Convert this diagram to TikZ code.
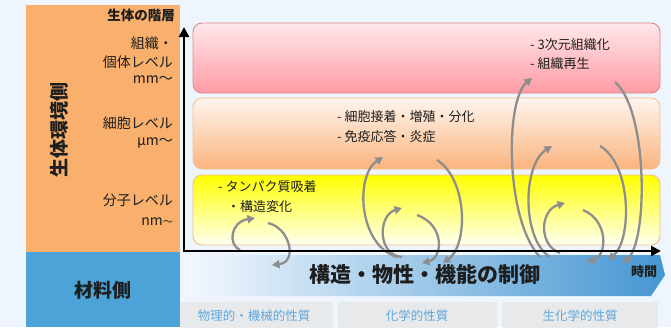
\documentclass[tikz,border=0pt]{standalone}
\usepackage{fontspec}
\setmainfont{Noto Sans CJK JP}
\usetikzlibrary{arrows.meta}
\definecolor{bgc}{HTML}{EEF5FC}
\definecolor{lorange}{HTML}{F8B06C}
\definecolor{lblue}{HTML}{4BA3D8}
\definecolor{redtop}{HTML}{FFE8EB}
\definecolor{redbot}{HTML}{FF9BA4}
\definecolor{redline}{HTML}{D98A90}
\definecolor{peachtop}{HTML}{FFF5EE}
\definecolor{peachbot}{HTML}{FAB47E}
\definecolor{peachline}{HTML}{F7C08E}
\definecolor{yeltop}{HTML}{FFFF00}
\definecolor{yelbot}{HTML}{FFFFF2}
\definecolor{yelline}{HTML}{F2BE84}
\definecolor{bandL}{HTML}{F4F9FE}
\definecolor{bandM}{HTML}{B3D6EF}
\definecolor{bandR}{HTML}{4696D2}
\definecolor{graybox}{HTML}{E8E9EB}
\definecolor{graytxt}{HTML}{5CA8DC}
\definecolor{arrgray}{HTML}{8E8E8E}
\definecolor{txt}{HTML}{1E1E1E}
\tikzset{
  lbl/.style={inner sep=0pt, text=txt, font=\fontsize{14}{16}\selectfont, anchor=east},
  btxt/.style={inner sep=0pt, text=txt, font=\fontsize{13}{15}\selectfont, anchor=west},
  levelbox/.style={rounded corners=9pt, line width=0.9pt, minimum width=467pt, minimum height=70pt, inner sep=0pt},
  gbox/.style={fill=graybox, minimum width=#1, minimum height=30pt, inner sep=0pt, anchor=north west},
  gtxt/.style={inner sep=0pt, text=graytxt, font=\fontsize{12.5}{14}\selectfont},
  garrow/.style={draw=arrgray, line width=2.3pt, -{Triangle[length=7.5pt,width=8pt]}},
  axis/.style={draw=black, line width=2.4pt, -{Triangle[length=10pt,width=10pt]}}
}
\begin{document}
\begin{tikzpicture}[x=1pt,y=-1pt]
\fill[bgc] (0,0) rectangle (671,327);
\useasboundingbox (0,0) rectangle (671,327);
% left panels
\fill[lorange] (26,5) rectangle (180,252);
\fill[lblue] (26,252) rectangle (180,327);
% level boxes
\node[levelbox, draw=redline, top color=redtop, bottom color=redbot] (tissue) at (426.5,58) {};
\node[levelbox, draw=peachline, top color=peachtop, bottom color=peachbot, minimum height=71pt] (cell) at (426.5,133.5) {};
\node[levelbox, draw=yelline, top color=yeltop, bottom color=yelbot] (mol) at (426.5,210) {};
% band
\shade[left color=bandL, middle color=bandM, right color=bandR] (184,255) -- (660,255) -- (665,275) -- (651,296) -- (184,296) -- cycle;
% gray boxes
\node[gbox=153pt] (g1) at (180,302) {};
\node[gbox=159pt] (g2) at (338,302) {};
\node[gbox=156pt] (g3) at (502,302) {};
\node[gtxt] (g1t) at (254,316) {物理的・機械的性質};
\node[gtxt] (g2t) at (417,316) {化学的性質};
\node[gtxt] (g3t) at (580,316) {生化学的性質};
% curved arrows
\draw[garrow] (240,250) .. controls (228,245) and (230,222) .. (255,218);
\draw[garrow] (268,223) .. controls (290,228) and (298,262) .. (272,265);
\draw[garrow] (402,257) .. controls (377,255) and (378,215) .. (402,208);
\draw[garrow] (417,215) .. controls (445,225) and (443,258) .. (422,263);
\draw[garrow] (397,257) .. controls (358,245) and (355,175) .. (383,157);
\draw[garrow] (437,160) .. controls (468,180) and (468,245) .. (443,263);
\draw[garrow] (540,257) .. controls (505,220) and (505,100) .. (532,78);
\draw[garrow] (615,82) .. controls (648,110) and (648,240) .. (623,263);
\draw[garrow] (550,257) .. controls (522,240) and (522,165) .. (552,146);
\draw[garrow] (600,146) .. controls (632,165) and (632,240) .. (608,260);
\draw[garrow] (560,253) .. controls (538,245) and (540,210) .. (565,203);
\draw[garrow] (583,210) .. controls (608,220) and (608,255) .. (587,262);
% axes
\coordinate (O) at (184,251);
\coordinate (Ytop) at (184,27);
\coordinate (Xend) at (661,251);
\draw[axis] (O) -- (Ytop);
\draw[axis] ([xshift=-1.2pt]O) -- (Xend);
% left labels
\node[lbl, font=\fontsize{13.5}{15}\selectfont\bfseries] (hier) at (175,15) {生体の階層};
\node[lbl] (l1a) at (173,43) {組織・};
\node[lbl] (l1b) at (173,62) {個体レベル};
\node[lbl] (l1c) at (173,80) {mm～};
\node[lbl] (l2a) at (173,123) {細胞レベル};
\node[lbl] (l2b) at (173,143) {μm～};
\node[lbl] (l3a) at (173,200) {分子レベル};
\node[lbl] (l3b) at (173,222) {nm{\fontsize{10}{12}\selectfont～}};
\node[inner sep=0pt, text=txt, font=\fontsize{19}{21}\selectfont\bfseries, rotate=90] (bio) at (59,130) {生体環境側};
\node[inner sep=0pt, text=txt, font=\fontsize{19}{21}\selectfont\bfseries] (mat) at (103,290) {材料側};
% box texts
\node[btxt] (t1a) at (530,45) {- 3次元組織化};
\node[btxt] (t1b) at (530,64) {- 組織再生};
\node[btxt] (t2a) at (337,117) {- 細胞接着・増殖・分化};
\node[btxt] (t2b) at (337,136) {- 免疫応答・炎症};
\node[btxt] (t3a) at (218,187) {- タンパク質吸着};
\node[btxt] (t3b) at (227,207) {・構造変化};
% band texts
\node[inner sep=0pt, text=txt, font=\fontsize{21}{23}\selectfont\bfseries] (ctrl) at (425,274) {構造・物性・機能の制御};
\node[inner sep=0pt, text=txt, font=\fontsize{13}{15}\selectfont\bfseries] (time) at (644,272) {時間};
\end{tikzpicture}
\end{document}
